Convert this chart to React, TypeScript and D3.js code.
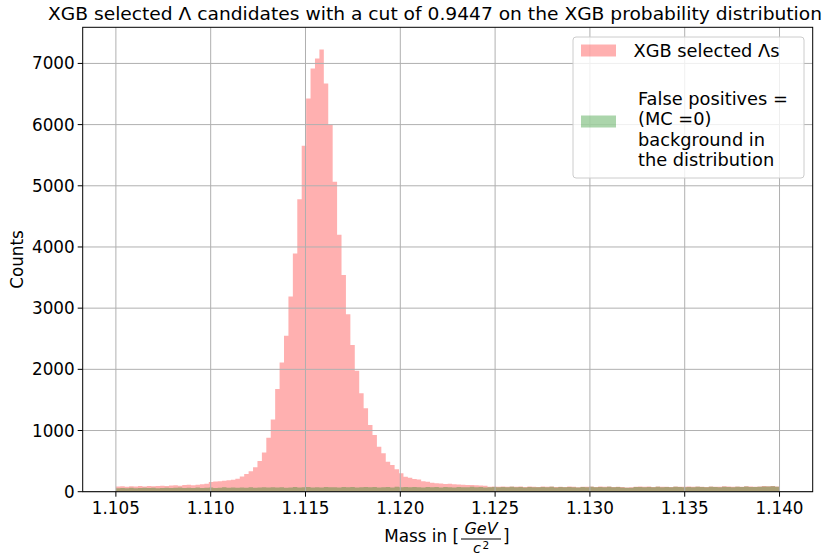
import React from 'react';
import * as d3 from 'd3';

const W = 827;
const H = 557;

// histogram range (GeV/c^2) and bin contents
const binLo = 1.105;
const binHi = 1.14;

const selected = [
  84, 88, 82, 90, 86, 92, 87, 94, 89, 95,
  98, 93, 101, 105, 99, 108, 112, 106, 115, 120,
  128, 158, 165, 172, 178, 186, 196, 212, 248, 290,
  335, 400, 500, 640, 880, 1180, 1680, 2110, 2550, 3190,
  3895, 4778, 5654, 6428, 6918, 7082, 7229, 6673, 5992, 5065,
  4200, 3541, 2900, 2397, 1975, 1608, 1362, 1090, 926, 735,
  627, 490, 436, 366, 300, 245, 228, 206, 198, 170,
  162, 148, 138, 132, 126, 128, 122, 118, 114, 108,
  110, 104, 101, 98, 82, 86, 79, 83, 80, 87,
  79, 83, 76, 85, 80, 77, 84, 79, 86, 76,
  81, 78, 85, 80, 74, 82, 79, 86, 77, 83,
  80, 85, 78, 82, 76, 69, 72, 81, 84, 79,
  83, 77, 85, 80, 82, 78, 86, 81, 79, 84,
  80, 87, 82, 78, 85, 81, 79, 88, 83, 80,
  86, 82, 89, 84, 81, 87, 92, 90, 94, 85,
];

const falsePositives = [
  55, 62, 58, 64, 57, 60, 66, 59, 63, 56,
  61, 65, 59, 63, 68, 60, 64, 62, 67, 61,
  65, 69, 62, 66, 71, 64, 68, 63, 70, 66,
  72, 65, 69, 74, 67, 71, 68, 73, 66, 70,
  75, 69, 72, 77, 70, 74, 68, 76, 71, 73,
  69, 75, 72, 78, 70, 74, 77, 71, 75, 68,
  73, 76, 70, 79, 72, 75, 71, 77, 74, 69,
  76, 72, 78, 70, 75, 73, 68, 77, 71, 74,
  79, 72, 76, 70, 74, 78, 71, 75, 73, 80,
  72, 76, 69, 78, 74, 71, 77, 73, 79, 70,
  75, 72, 78, 74, 68, 76, 73, 80, 71, 77,
  74, 79, 72, 76, 70, 63, 66, 75, 78, 73,
  77, 71, 79, 74, 76, 72, 80, 75, 73, 78,
  74, 81, 76, 72, 79, 75, 73, 82, 77, 74,
  80, 76, 83, 78, 75, 81, 86, 84, 88, 79,
];

const xTicks = [1.105, 1.11, 1.115, 1.12, 1.125, 1.13, 1.135, 1.14];
const yTicks = [0, 1000, 2000, 3000, 4000, 5000, 6000, 7000];

const titleText = 'XGB selected \u039B candidates with a cut of 0.9447 on the XGB probability distribution';
const legendSelected = 'XGB selected \u039Bs';
const legendFalse = ['False positives =', '(MC =0)', 'background in', 'the distribution'];

const FONT = 'DejaVu Sans, sans-serif';
const FS = 16.8;

export default function App() {
  const n = selected.length;
  const bw = (binHi - binLo) / n;
  const edges = d3.range(n + 1).map((i) => binLo + i * bw);
  const pad = 0.05 * (binHi - binLo);
  const left = 82.7;
  const right = 812.7;
  const top = 27.3;
  const bottom = 491.7;

  const x = d3.scaleLinear().domain([binLo - pad, binHi + pad]).range([left, right]);
  const yMax = (d3.max(selected) as number) * 1.05;
  const y = d3.scaleLinear().domain([0, yMax]).range([bottom, top]);

  const histPath = (vals: number[]) =>
    d3
      .area<number>()
      .x((_, i) => x(edges[i]))
      .y0(y(0))
      .y1((d) => y(d))
      .curve(d3.curveStepAfter)([...vals, vals[vals.length - 1]]) as string;

  const fmt = d3.format('.3f');

  return (
    <svg
      width={W}
      height={H}
      style={{ position: 'absolute', left: 0, top: 0, background: '#fff' }}
      fontFamily={FONT}
    >
      <rect x={0} y={0} width={W} height={H} fill="#fff" />
      {/* histograms */}
      <path d={histPath(selected)} fill="red" fillOpacity={0.31} />
      <path d={histPath(falsePositives)} fill="green" fillOpacity={0.33} />

      {/* grid */}
      <g stroke="#b0b0b0" strokeWidth={1}>
        {xTicks.map((t) => (
          <line key={'gx' + t} x1={x(t)} x2={x(t)} y1={top} y2={bottom} />
        ))}
        {yTicks.map((t) => (
          <line key={'gy' + t} x1={left} x2={right} y1={y(t)} y2={y(t)} />
        ))}
      </g>

      {/* spines */}
      <rect x={left} y={top} width={right - left} height={bottom - top} fill="none" stroke="#000" strokeWidth={1} />

      {/* x ticks */}
      {xTicks.map((t) => (
        <g key={'xt' + t}>
          <line x1={x(t)} x2={x(t)} y1={bottom} y2={bottom + 5} stroke="#000" strokeWidth={1} />
          <text x={x(t)} y={bottom + 22.5} fontSize={FS} textAnchor="middle" fill="#000">
            {fmt(t)}
          </text>
        </g>
      ))}
      {/* y ticks */}
      {yTicks.map((t) => (
        <g key={'yt' + t}>
          <line x1={left - 5} x2={left} y1={y(t)} y2={y(t)} stroke="#000" strokeWidth={1} />
          <text x={left - 8} y={y(t) + 6} fontSize={FS} textAnchor="end" fill="#000">
            {t}
          </text>
        </g>
      ))}

      {/* axis labels */}
      <text
        transform={`translate(23,${(top + bottom) / 2}) rotate(-90)`}
        fontSize={FS}
        textAnchor="middle"
        fill="#000"
      >
        Counts
      </text>
      <g fill="#000">
        <text x={459} y={542} fontSize={FS} textAnchor="end">
          Mass in [
        </text>
        <text x={481} y={534} fontSize={16} fontStyle="italic" textAnchor="middle">
          GeV
        </text>
        <line x1={461} x2={501} y1={539} y2={539} stroke="#000" strokeWidth={1.2} />
        <text x={477} y={552.5} fontSize={14.5} fontStyle="italic" textAnchor="middle">
          c
        </text>
        <text x={482.5} y={548.5} fontSize={10.5}>
          2
        </text>
        <text x={503} y={542} fontSize={FS}>
          ]
        </text>
      </g>

      {/* title */}
      <text x={48} y={20} fontSize={16.8} textLength={774} lengthAdjust="spacingAndGlyphs" fill="#000">
        {titleText}
      </text>

      {/* legend */}
      <g>
        <rect x={573} y={37} width={231} height={141} rx={3} fill="#fff" fillOpacity={0.8} stroke="#cccccc" strokeWidth={1} />
        <rect x={581} y={44.5} width={35} height={12} fill="red" fillOpacity={0.31} />
        <text x={633.5} y={57} fontSize={17.8} fill="#000">
          {legendSelected}
        </text>
        <rect x={581} y={115.5} width={35} height={12} fill="green" fillOpacity={0.33} />
        {legendFalse.map((s, i) => (
          <text key={s} x={638} y={105 + i * 20.3} fontSize={17.8} fill="#000">
            {s}
          </text>
        ))}
      </g>
    </svg>
  );
}
